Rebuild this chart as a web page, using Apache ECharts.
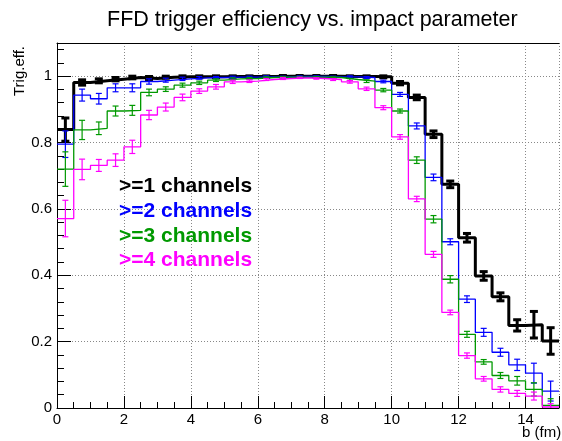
<!DOCTYPE html>
<html><head><meta charset="utf-8">
<script src="https://cdn.jsdelivr.net/npm/echarts@6/dist/echarts.min.js"></script>
<style>html,body{margin:0;padding:0;background:#fff}#c{width:562px;height:441px}</style>
</head><body><div id="c"></div>
<script>
// Bin low edges of impact parameter b (fm), bin width 0.5
const binLow = [0,0.5,1,1.5,2,2.5,3,3.5,4,4.5,5,5.5,6,6.5,7,7.5,8,8.5,9,9.5,10,10.5,11,11.5,12,12.5,13,13.5,14,14.5];
const binWidth = 0.5;
const seriesNames = ['>=1 channels','>=2 channels','>=3 channels','>=4 channels'];
const seriesColors = ['#000000','#0000ff','#009900','#ff00ff'];

const eff1 = [0.839,0.981,0.986,0.991,0.996,0.993,0.997,0.998,0.998,0.998,0.999,0.999,0.999,1.000,1.000,1.000,1.000,0.999,0.999,0.998,0.979,0.936,0.825,0.674,0.513,0.398,0.335,0.249,0.251,0.202];
const err1 = [0.035,0.008,0.006,0.005,0.004,0.006,0.003,0.003,0.003,0.003,0.002,0.002,0.002,0.002,0.002,0.002,0.002,0.002,0.002,0.003,0.005,0.007,0.010,0.010,0.013,0.013,0.012,0.017,0.040,0.040];

const eff2 = [0.795,0.943,0.932,0.965,0.965,0.984,0.988,0.992,0.995,0.996,0.997,0.997,0.998,0.998,0.999,0.999,0.998,0.998,0.996,0.984,0.945,0.850,0.695,0.501,0.328,0.228,0.168,0.130,0.105,0.051];
const err2 = [0.040,0.018,0.016,0.012,0.012,0.008,0.006,0.005,0.004,0.003,0.003,0.003,0.003,0.002,0.002,0.002,0.002,0.003,0.003,0.004,0.006,0.009,0.010,0.009,0.010,0.012,0.012,0.017,0.030,0.030];

const eff3 = [0.720,0.838,0.843,0.895,0.897,0.951,0.961,0.973,0.980,0.988,0.992,0.993,0.996,0.997,0.997,0.997,0.996,0.990,0.985,0.958,0.895,0.747,0.569,0.388,0.222,0.139,0.098,0.082,0.056,0.008];
const err3 = [0.052,0.029,0.019,0.015,0.015,0.010,0.007,0.006,0.005,0.004,0.003,0.003,0.002,0.002,0.002,0.002,0.002,0.003,0.004,0.005,0.006,0.010,0.011,0.011,0.009,0.007,0.009,0.013,0.020,0.020];

const eff4 = [0.571,0.719,0.731,0.747,0.787,0.883,0.907,0.936,0.955,0.968,0.983,0.985,0.990,0.993,0.995,0.993,0.990,0.983,0.962,0.905,0.817,0.630,0.463,0.288,0.158,0.088,0.056,0.044,0.036,0.003];
const err4 = [0.055,0.031,0.018,0.019,0.020,0.014,0.012,0.010,0.007,0.007,0.005,0.004,0.003,0.003,0.002,0.002,0.003,0.004,0.005,0.006,0.007,0.008,0.009,0.007,0.008,0.007,0.008,0.009,0.012,0.010];

const effs = [eff1, eff2, eff3, eff4];
const errs = [err1, err2, err3, err4];
const lineWidths = [3, 1.3, 1.3, 1.3];

const FONT = '"Liberation Sans", Arial, Helvetica, sans-serif';

const chart = echarts.init(document.getElementById('c'), null, {renderer: 'canvas'});

const series = [];
effs.forEach((eff, k) => {
  const stepData = binLow.map((x, i) => [x, eff[i]]);
  stepData.push([binLow[binLow.length - 1] + binWidth, eff[eff.length - 1]]);
  series.push({
    name: seriesNames[k], type: 'line', step: 'end', data: stepData,
    showSymbol: false, symbol: 'none', animation: false, z: 2 + k,
    lineStyle: {color: seriesColors[k], width: lineWidths[k]},
    itemStyle: {color: seriesColors[k]}
  });
  const ebData = binLow.map((x, i) => [x + binWidth / 2, eff[i], errs[k][i]]);
  series.push({
    name: seriesNames[k], type: 'custom', data: ebData, animation: false, z: 2 + k, clip: true,
    encode: {x: 0, y: 1},
    renderItem: function (params, api) {
      const x = api.value(0), y = api.value(1), e = api.value(2);
      const top = api.coord([x, y + e]);
      const bot = api.coord([x, y - e]);
      const hw = k === 0 ? 4 : 3;
      const style = {stroke: seriesColors[k], lineWidth: k === 0 ? 3 : 1.2};
      return {
        type: 'group',
        children: [
          {type: 'line', shape: {x1: top[0], y1: top[1], x2: bot[0], y2: bot[1]}, style: style},
          {type: 'line', shape: {x1: top[0] - hw, y1: top[1], x2: top[0] + hw, y2: top[1]}, style: style},
          {type: 'line', shape: {x1: bot[0] - hw, y1: bot[1], x2: bot[0] + hw, y2: bot[1]}, style: style}
        ]
      };
    }
  });
});

chart.setOption({
  backgroundColor: '#ffffff',
  animation: false,
  title: {
    text: 'FFD trigger efficiency vs. impact parameter',
    left: 102, top: 4,
    textStyle: {fontFamily: FONT, fontSize: 21.5, fontWeight: 'normal', color: '#000'}
  },
  legend: {
    orient: 'vertical', left: 109, top: 171, icon: 'none', itemWidth: 0, itemHeight: 20, itemGap: 3.7,
    selectedMode: false,
    textStyle: {fontFamily: FONT, fontSize: 21, fontWeight: 'bold'},
    data: seriesNames.map((n, k) => ({name: n, textStyle: {color: seriesColors[k], fontFamily: FONT, fontSize: 21, fontWeight: 'bold'}}))
  },
  grid: {left: 57, right: -11.8, top: 43, bottom: 33, containLabel: false},
  xAxis: [{
    type: 'value', min: 0, max: 15, interval: 2,
    axisLine: {show: true, lineStyle: {color: '#000', width: 1}},
    axisTick: {show: true, inside: true, length: 12, lineStyle: {color: '#000'}},
    minorTick: {show: true, splitNumber: 4, length: 6, lineStyle: {color: '#000'}},
    splitLine: {show: true, lineStyle: {color: '#888', type: [1, 2], width: 1}},
    axisLabel: {fontFamily: FONT, fontSize: 15, color: '#000', margin: 4,
      formatter: v => (v % 2 === 0 && v <= 14) ? String(v) : ''}
  }, {
    type: 'value', position: 'top', min: 0, max: 15,
    axisLine: {show: true, onZero: false, lineStyle: {color: '#000', width: 1}},
    axisTick: {show: false}, axisLabel: {show: false}, splitLine: {show: false}
  }],
  yAxis: {
    type: 'value', min: 0, max: 1.1, interval: 0.2,
    axisLine: {show: true, lineStyle: {color: '#000', width: 1}},
    axisTick: {show: true, inside: true, length: 14, lineStyle: {color: '#000'}},
    minorTick: {show: true, splitNumber: 5, length: 7, lineStyle: {color: '#000'}},
    splitLine: {show: true, lineStyle: {color: '#888', type: [1, 2], width: 1}},
    axisLabel: {fontFamily: FONT, fontSize: 15, color: '#000', margin: 5, showMaxLabel: false,
      formatter: v => {
        const r = Math.round(v * 10) / 10;
        if (Math.abs(r * 5 - Math.round(r * 5)) > 1e-6 || r > 1.05) return '';
        return r === 0 ? '0' : (r === 1 ? '1' : r.toFixed(1));
      }}
  },
  graphic: [
    {type: 'text', left: 522, top: 425, style: {text: 'b (fm)', fontFamily: FONT, fontSize: 15, fill: '#000'}},
    {type: 'text', x: 12, y: 96, rotation: Math.PI / 2, style: {text: 'Trig.eff.', fontFamily: FONT, fontSize: 15, fill: '#000', textAlign: 'left', textVerticalAlign: 'top'}}
  ],
  series: series
});
</script>
</body></html>
